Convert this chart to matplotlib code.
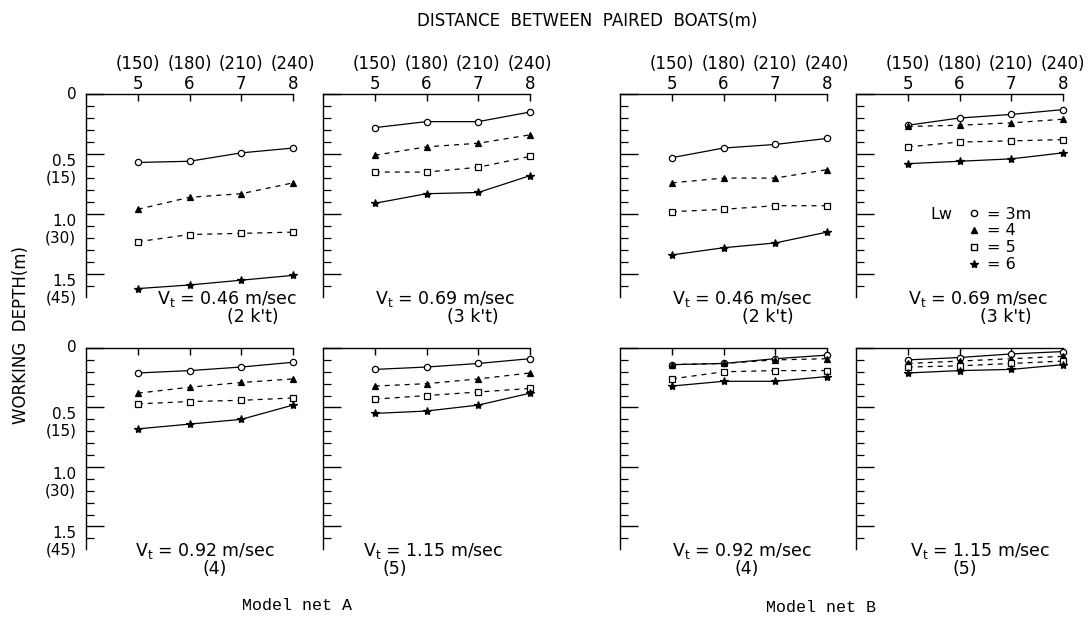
import numpy as np
import matplotlib
matplotlib.use('Agg')
import matplotlib.pyplot as plt
from matplotlib.ticker import MultipleLocator
from matplotlib.lines import Line2D

plt.rcParams['font.family'] = ['DejaVu Sans']
plt.rcParams['mathtext.default'] = 'regular'

# distance between paired boats (x axis)
dist = [5, 6, 7, 8]
dist_ft = ['(150)', '(180)', '(210)', '(240)']

# working depth (m), rows: Lw = 3, 4, 5, 6 m
netA_046 = [[0.57, 0.56, 0.49, 0.45],
            [0.96, 0.86, 0.83, 0.74],
            [1.23, 1.17, 1.16, 1.15],
            [1.62, 1.59, 1.55, 1.51]]
netA_069 = [[0.28, 0.23, 0.23, 0.15],
            [0.51, 0.44, 0.41, 0.34],
            [0.65, 0.65, 0.61, 0.52],
            [0.91, 0.83, 0.82, 0.68]]
netA_092 = [[0.21, 0.19, 0.16, 0.12],
            [0.38, 0.33, 0.29, 0.26],
            [0.47, 0.45, 0.44, 0.42],
            [0.68, 0.64, 0.60, 0.48]]
netA_115 = [[0.18, 0.16, 0.13, 0.09],
            [0.32, 0.30, 0.26, 0.21],
            [0.43, 0.40, 0.37, 0.34],
            [0.55, 0.53, 0.48, 0.38]]
netB_046 = [[0.53, 0.45, 0.42, 0.37],
            [0.74, 0.70, 0.70, 0.63],
            [0.98, 0.96, 0.93, 0.93],
            [1.34, 1.28, 1.24, 1.15]]
netB_069 = [[0.26, 0.20, 0.17, 0.13],
            [0.27, 0.26, 0.24, 0.21],
            [0.44, 0.40, 0.39, 0.38],
            [0.58, 0.56, 0.54, 0.49]]
netB_092 = [[0.14, 0.13, 0.09, 0.06],
            [0.14, 0.13, 0.10, 0.09],
            [0.26, 0.20, 0.19, 0.19],
            [0.32, 0.28, 0.28, 0.24]]
netB_115 = [[0.10, 0.08, 0.05, 0.03],
            [0.13, 0.11, 0.09, 0.07],
            [0.16, 0.15, 0.13, 0.11],
            [0.21, 0.19, 0.18, 0.14]]

lw_labels = ['= 3m', '= 4', '= 5', '= 6']
depth_ticks = [0, 0.5, 1.0, 1.5]
depth_labels = ['0', '0.5\n(15)', '1.0\n(30)', '1.5\n(45)']
speed_text = ['0.46 m/sec', '0.69 m/sec', '0.92 m/sec', '1.15 m/sec']
knot_text = ["(2 k't)", "(3 k't)", '(4)', '(5)']

W, H = 1091, 632
fig = plt.figure(figsize=(W / 100, H / 100), dpi=100)


def rect(l, t, r, b):
    return [l / W, 1 - b / H, (r - l) / W, (b - t) / H]


markers = ['o', '^', 's', '*']
fills = ['white', 'black', 'white', 'black']
styles = ['-', (0, (4, 4)), (0, (4, 4)), '-']
sizes = [4.5, 4.5, 4.5, 6]

panels = [(netA_046, 86, 94, 297, 0, True), (netA_069, 323, 94, 297, 1, False),
          (netB_046, 620, 94, 297, 0, False), (netB_069, 856, 94, 297, 1, False),
          (netA_092, 86, 348, 549, 2, True), (netA_115, 323, 348, 549, 3, False),
          (netB_092, 620, 348, 549, 2, False), (netB_115, 856, 348, 549, 3, False)]
# text anchor (x in px of "Vt", x of second line) per panel
text_x = [(157, 227), (375, 447), (672, 742), (908, 980),
          (135, 203), (363, 382), (672, 735), (910, 953)]

axes = []
for i, (data, left, top, bot, si, ylab) in enumerate(panels):
    ax = fig.add_axes(rect(left, top, left + 207, bot))
    axes.append(ax)
    for k in range(4):
        ax.plot(dist, data[k], color='black', lw=0.9, linestyle=styles[k],
                marker=markers[k], markersize=sizes[k], markerfacecolor=fills[k],
                markeredgecolor='black', markeredgewidth=0.9, clip_on=False)
    ax.set_xlim(4.0, 8.0)
    ax.set_ylim(1.69, 0)
    for s in ['right', 'bottom']:
        ax.spines[s].set_visible(False)
    for s in ['left', 'top']:
        ax.spines[s].set_linewidth(1.0)
    ax.xaxis.tick_top()
    ax.set_xticks(dist)
    ax.tick_params(axis='x', direction='in', length=5, width=1, pad=0.5,
                   labelsize=12)
    if i < 4:
        ax.set_xticklabels([f'{a}\n{b}' for a, b in zip(dist_ft, dist)],
                           linespacing=1.2)
    else:
        ax.set_xticklabels([])
    ax.set_yticks(depth_ticks)
    ax.yaxis.set_minor_locator(MultipleLocator(0.1))
    ax.tick_params(axis='y', which='major', direction='in', length=13,
                   width=1, pad=7, labelsize=11)
    ax.tick_params(axis='y', which='minor', direction='in', length=6,
                   width=0.9)
    if ylab:
        lbls = ax.set_yticklabels(depth_labels, linespacing=1.1)
        for j, t in enumerate(lbls):
            t.set_verticalalignment('center' if j == 0 else 'top')
    else:
        ax.set_yticklabels([])

    tx, kx = text_x[i]
    fig.text(tx / W, 1 - (bot + 2) / H, r'V$_\mathregular{t}$ = ' + speed_text[si],
             fontsize=12.5, ha='left', va='center')
    fig.text(kx / W, 1 - (bot + 20) / H, knot_text[si],
             fontsize=12.5, ha='left', va='center')

# legend in the net B, 0.69 m/sec panel
handles = [Line2D([], [], linestyle='none', marker=markers[k], markersize=sizes[k],
                  markerfacecolor=fills[k], markeredgecolor='black')
           for k in range(4)]
leg = axes[3].legend(handles, lw_labels, loc='upper left',
                     bbox_to_anchor=(0.51, 0.485), frameon=False, fontsize=11.5,
                     handlelength=0.6, handletextpad=0.5, labelspacing=0.12,
                     borderpad=0)
axes[3].text(0.36, 0.404, 'Lw', transform=axes[3].transAxes, fontsize=11.5,
             ha='left', va='center')

fig.text(587 / W, 1 - 21 / H, 'DISTANCE  BETWEEN  PAIRED  BOATS(m)',
         fontsize=12, ha='center', va='center')
fig.text(21 / W, 1 - 335 / H, 'WORKING  DEPTH(m)', fontsize=12,
         rotation=90, ha='center', va='center')
fig.text(297 / W, 1 - 606 / H, 'Model net A', family='Liberation Mono',
         fontsize=12, ha='center', va='center')
fig.text(821 / W, 1 - 608 / H, 'Model net B', family='Liberation Mono',
         fontsize=12, ha='center', va='center')

fig.savefig('out.png', dpi=100, facecolor='white')
